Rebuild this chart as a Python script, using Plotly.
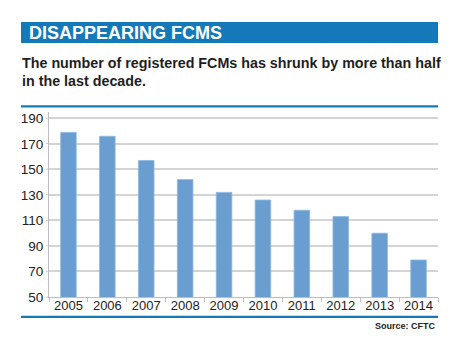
import plotly.graph_objects as go

years = ["2005", "2006", "2007", "2008", "2009", "2010", "2011", "2012", "2013", "2014"]
fcm_counts = [179, 176, 157, 142, 132, 126, 118, 113, 100, 79]
y_ticks = [50, 70, 90, 110, 130, 150, 170, 190]

W, H = 468, 351
L, R, T, B = 49, 438, 112, 297  # plot area in pixels


def px(x):
    return (x - L) / (R - L)


def py(y):
    return (B - y) / (B - T)


BLUE = "#1479B8"
fig = go.Figure(go.Bar(
    x=years, y=fcm_counts,
    marker=dict(color="#6A9ED0", line=dict(color="#8DB6DE", width=0.8)),
))

fig.update_layout(
    width=W, height=H,
    margin=dict(l=L, r=W - R, t=T, b=H - B),
    paper_bgcolor="white", plot_bgcolor="white",
    bargap=0.6, showlegend=False,
    font=dict(family="Liberation Sans, Arial, sans-serif", color="#222222", size=13),
    xaxis=dict(
        showline=True, linecolor="#BDBDBD", linewidth=1,
        ticks="outside", tickson="boundaries", ticklen=4, tickcolor="#BDBDBD",
        tickfont=dict(size=13, color="#222222"), tickangle=0, showgrid=False,
        ticklabelstandoff=-4,
    ),
    yaxis=dict(
        range=[50, 195], tickvals=y_ticks, showline=True, linecolor="#BDBDBD", linewidth=1,
        ticks="outside", ticklen=2, tickcolor="#D0D0D0",
        showgrid=True, gridcolor="#D4D4D4", gridwidth=1.5,
        tickfont=dict(size=13.5, color="#222222"), zeroline=False,
    ),
    shapes=[
        dict(type="rect", xref="paper", yref="paper", x0=px(21), x1=px(438), y0=py(43), y1=py(22),
             fillcolor=BLUE, line=dict(width=0), layer="above"),
        dict(type="rect", xref="paper", yref="paper", x0=px(21), x1=px(438), y0=py(107.5), y1=py(105.2),
             fillcolor=BLUE, line=dict(width=0)),
        dict(type="rect", xref="paper", yref="paper", x0=px(21), x1=px(438), y0=py(318), y1=py(315.7),
             fillcolor=BLUE, line=dict(width=0)),
    ],
    annotations=[
        dict(text="<b>DISAPPEARING FCMS</b>", xref="paper", yref="paper", x=px(27), y=py(32.8),
             xanchor="left", yanchor="middle", showarrow=False,
             font=dict(size=18, color="white", family="Liberation Sans, Arial, sans-serif")),
        dict(text="<b>The number of registered FCMs has shrunk by more than half</b>",
             xref="paper", yref="paper", x=px(20), y=py(62.5),
             xanchor="left", yanchor="middle", showarrow=False,
             font=dict(size=14.3, color="#1E1E1E")),
        dict(text="<b>in the last decade.</b>",
             xref="paper", yref="paper", x=px(20), y=py(81.5),
             xanchor="left", yanchor="middle", showarrow=False,
             font=dict(size=14.3, color="#1E1E1E")),
        dict(text="<b>Source: CFTC</b>", xref="paper", yref="paper", x=px(438), y=py(326),
             xanchor="right", yanchor="middle", showarrow=False,
             font=dict(size=9, color="#222222")),
    ],
)

fig.write_html("out.html")
